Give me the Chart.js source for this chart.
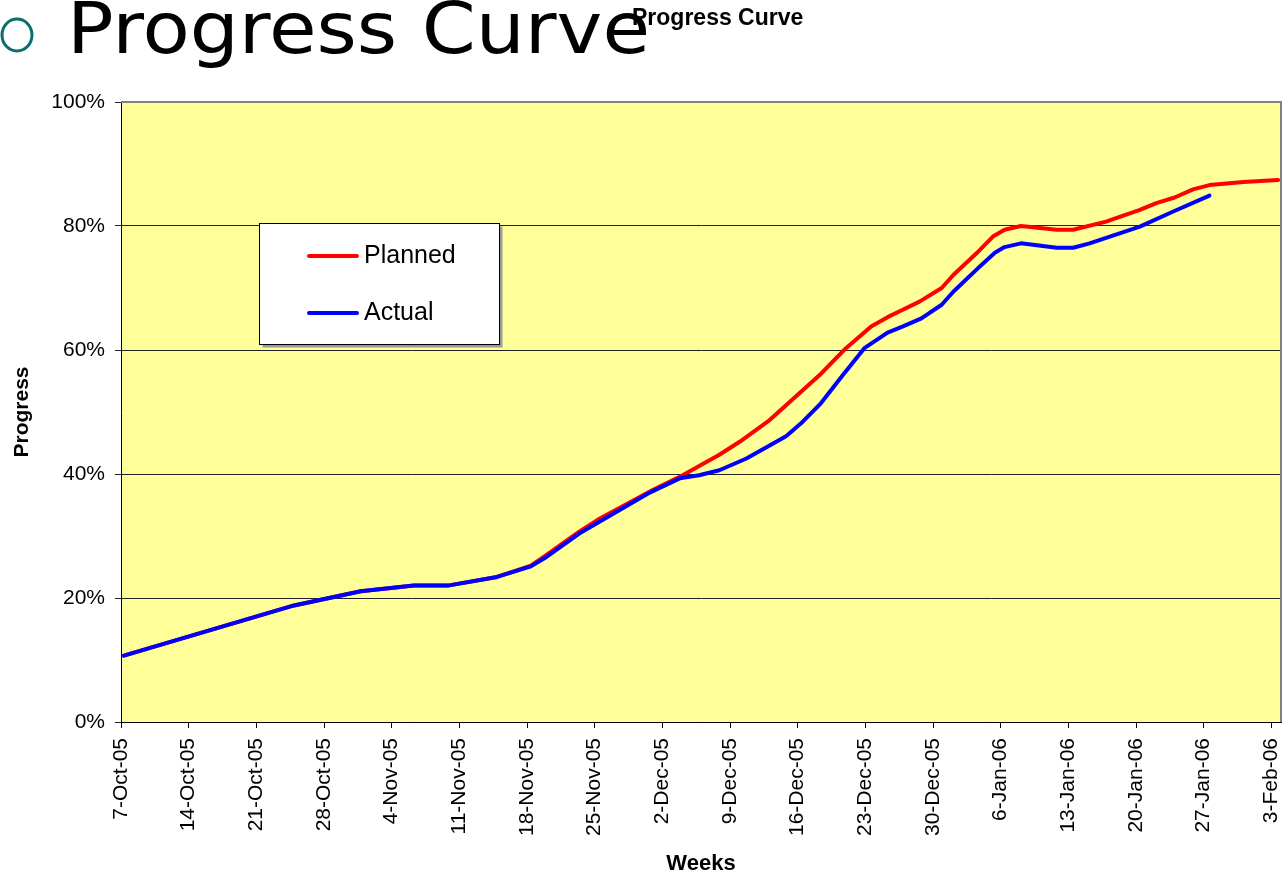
<!DOCTYPE html>
<html>
<head>
<meta charset="utf-8">
<title>Progress Curve</title>
<script src="https://cdn.jsdelivr.net/npm/chart.js@4.4.0/dist/chart.umd.min.js"></script>
<style>
  html, body { margin: 0; padding: 0; background: #fff; }
  #wrap { position: relative; width: 1287px; height: 877px; }
</style>
</head>
<body>
<div id="wrap"><canvas id="progressChart" width="1287" height="877"></canvas></div>
<script>
// weekly tick labels (one every 7 days, starting 7-Oct-05)
const weekLabels = ["7-Oct-05", "14-Oct-05", "21-Oct-05", "28-Oct-05", "4-Nov-05", "11-Nov-05",
  "18-Nov-05", "25-Nov-05", "2-Dec-05", "9-Dec-05", "16-Dec-05", "23-Dec-05", "30-Dec-05",
  "6-Jan-06", "13-Jan-06", "20-Jan-06", "27-Jan-06", "3-Feb-06"];

// planned curve: day offset from 7-Oct-05, progress in %
const plannedDays = [0.3, 17.9, 24.8, 30.3, 33.8, 38.9, 42.4, 43.8, 47.4, 49.3, 55, 58.1, 61.9, 64,
  67.1, 68.8, 72.3, 73.6, 75, 77.6, 79.3, 80.5, 82.6, 84.9, 86.1, 88.5, 90.2, 91.4, 93.1, 96.8,
  98.5, 101.9, 105.4, 107.1, 109, 110.9, 112.6, 116.1, 119.7];
const plannedPct = [10.7, 18.8, 21.1, 22.0, 22.0, 23.4, 25.2, 26.7, 30.7, 32.6, 37.4, 39.8, 43.1, 45.2,
  48.7, 51.1, 56.0, 58.1, 60.3, 63.8, 65.3, 66.2, 67.8, 70.0, 72.1, 75.6, 78.3, 79.4, 80.0, 79.4,
  79.4, 80.7, 82.6, 83.7, 84.6, 85.9, 86.6, 87.1, 87.4];

// actual curve
const actualDays = [0.3, 17.9, 24.8, 30.3, 33.8, 38.9, 42.4, 43.8, 47.4, 54.7, 57.8, 59.8, 61.9, 64.7,
  68.8, 70.5, 72.4, 74.7, 76.9, 79.3, 80.9, 82.8, 84.9, 86.1, 88.8, 90.4, 91.4, 93.1, 96.8, 98.5,
  100.2, 105.4, 108.8, 112.6];
const actualPct = [10.7, 18.8, 21.1, 22.0, 22.0, 23.4, 25.1, 26.4, 30.4, 37.0, 39.3, 39.8, 40.6, 42.5,
  46.1, 48.4, 51.4, 56.0, 60.3, 62.8, 63.8, 65.1, 67.3, 69.4, 73.4, 75.7, 76.6, 77.2, 76.5, 76.5,
  77.2, 79.9, 82.3, 84.9];

const FONT = '"Liberation Sans", Arial, sans-serif';
Chart.defaults.font.family = FONT;
Chart.defaults.color = "#000";

const toPoints = (xs, ys) => xs.map((x, i) => ({ x: x, y: ys[i] }));

// yellow plot area, borders, slide heading, chart title and legend box
const decor = {
  id: "decor",
  beforeDraw(chart) {
    const { ctx, chartArea: a } = chart;
    ctx.save();
    ctx.fillStyle = "#FFFF99";
    ctx.fillRect(a.left, a.top, a.right - a.left, a.bottom - a.top);
    ctx.restore();
  },
  afterDraw(chart) {
    const { ctx, chartArea: a } = chart;
    ctx.save();

    // gray top / right border of the plot
    ctx.strokeStyle = "#808080";
    ctx.lineWidth = 2;
    ctx.beginPath();
    ctx.moveTo(a.left, a.top);
    ctx.lineTo(a.right, a.top);
    ctx.lineTo(a.right, a.bottom);
    ctx.stroke();

    // slide bullet + heading
    ctx.strokeStyle = "#0B6E6E";
    ctx.lineWidth = 3;
    ctx.beginPath();
    ctx.ellipse(17, 35, 15, 16, 0, 0, Math.PI * 2);
    ctx.stroke();

    ctx.fillStyle = "#000";
    ctx.font = '72px "DejaVu Sans", Verdana, sans-serif';
    ctx.textBaseline = "alphabetic";
    ctx.textAlign = "left";
    const head = "Progress Curve";
    const w = ctx.measureText(head).width;
    ctx.save();
    ctx.translate(67, 53);
    ctx.scale(583 / w, 1);
    ctx.fillText(head, 0, 0);
    ctx.restore();

    // chart title
    ctx.font = "bold 23px " + FONT;
    ctx.fillText("Progress Curve", 632, 25);

    // legend
    const lx = 259.5, ly = 223.5, lw = 240, lh = 121;
    ctx.fillStyle = "#9a9a9a";
    ctx.fillRect(lx + 3, ly + 3, lw, lh);
    ctx.fillStyle = "#fff";
    ctx.fillRect(lx, ly, lw, lh);
    ctx.strokeStyle = "#000";
    ctx.lineWidth = 1;
    ctx.strokeRect(lx, ly, lw, lh);

    ctx.font = "25px " + FONT;
    ctx.textBaseline = "middle";
    ctx.lineCap = "round";
    chart.data.datasets.forEach((ds, i) => {
      const y = 256 + i * 57;
      ctx.strokeStyle = ds.borderColor;
      ctx.lineWidth = 4;
      ctx.beginPath();
      ctx.moveTo(309, y);
      ctx.lineTo(357, y);
      ctx.stroke();
      ctx.fillStyle = "#000";
      ctx.fillText(ds.label, 364, y);
    });

    ctx.restore();
  }
};

new Chart(document.getElementById("progressChart"), {
  type: "line",
  data: {
    datasets: [
      {
        label: "Planned",
        data: toPoints(plannedDays, plannedPct),
        borderColor: "#FF0000",
        borderWidth: 4,
        pointRadius: 0,
        tension: 0,
        borderJoinStyle: "round",
        borderCapStyle: "round",
        order: 1,
      },
      {
        label: "Actual",
        data: toPoints(actualDays, actualPct),
        borderColor: "#0000FF",
        borderWidth: 4,
        pointRadius: 0,
        tension: 0,
        borderJoinStyle: "round",
        borderCapStyle: "round",
        order: 0,
      },
    ],
  },
  options: {
    responsive: false,
    animation: false,
    layout: { padding: { top: 102, right: 6, left: 0, bottom: 0 } },
    plugins: {
      legend: { display: false },
      tooltip: { enabled: false },
      title: { display: false },
    },
    scales: {
      x: {
        type: "linear",
        min: 0,
        max: 120,
        afterBuildTicks: (scale) => {
          scale.ticks = weekLabels.map((_, i) => ({ value: i * 7 }));
        },
        afterFit: (scale) => {
          scale.height = 155;
          scale.paddingLeft = 0;
          scale.paddingRight = 0;
        },
        ticks: {
          autoSkip: false,
          minRotation: 90,
          maxRotation: 90,
          padding: 10,
          font: { size: 21 },
          callback: (v, i) => weekLabels[i],
        },
        grid: { drawOnChartArea: false, drawTicks: true, tickLength: 6, color: "#000" },
        border: { color: "#000", width: 1 },
        title: {
          display: true,
          text: "Weeks",
          font: { size: 22, weight: "bold" },
          padding: { top: 0, bottom: 0 },
        },
      },
      y: {
        min: 0,
        max: 100,
        afterFit: (scale) => {
          scale.width = 121;
          scale.paddingTop = 0;
          scale.paddingBottom = 0;
        },
        ticks: {
          stepSize: 20,
          padding: 10,
          font: { size: 21 },
          callback: (v) => v + "%",
        },
        grid: { color: "#222", tickLength: 6, drawTicks: true },
        border: { color: "#000", width: 1 },
        title: {
          display: true,
          text: "Progress",
          font: { size: 21, weight: "bold" },
          padding: { top: 10, bottom: 0 },
        },
      },
    },
  },
  plugins: [decor],
});
</script>
</body>
</html>
